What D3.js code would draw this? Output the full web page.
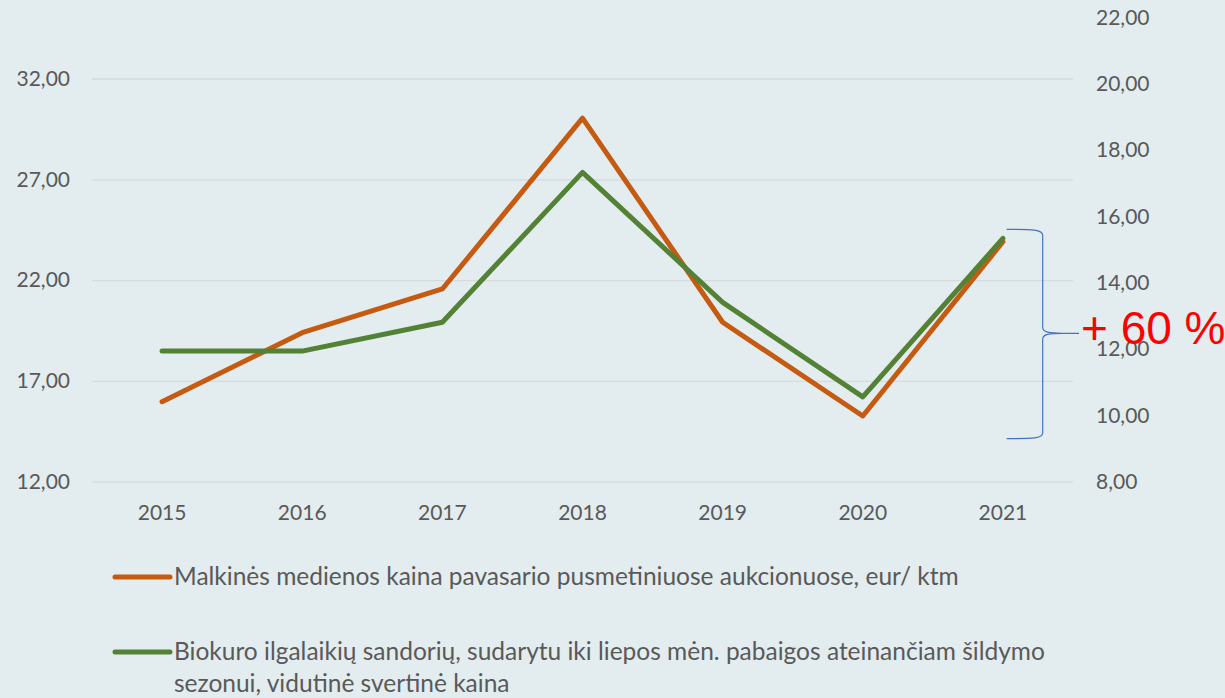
<!DOCTYPE html>
<html><head><meta charset="utf-8">
<script src="https://cdn.jsdelivr.net/npm/d3@7"></script>
<style>
html,body{margin:0;padding:0;background:#E3ECEE;}
svg{display:block;font-family:Lato,"Open Sans",sans-serif;}
</style></head>
<body>
<svg id="chart" width="1225" height="698"></svg>
<script>
const years = ["2015","2016","2017","2018","2019","2020","2021"];
const firewood = [15.97, 19.39, 21.56, 30.03, 19.91, 15.26, 23.90];
const biofuel = [11.94, 11.94, 12.81, 17.33, 13.41, 10.56, 15.34];
const leftTicks = [12, 17, 22, 27, 32];
const rightTicks = [8, 10, 12, 14, 16, 18, 20, 22];
const seriesNames = [
  "Malkinės medienos kaina pavasario pusmetiniuose aukcionuose, eur/ ktm",
  ["Biokuro ilgalaikių sandorių, sudarytu iki liepos mėn. pabaigos ateinančiam šildymo", "sezonui, vidutinė svertinė kaina"]
];
const annotation = "+ 60 %";

const svg = d3.select("#chart");
const plot = {left: 92, right: 1073, top: 17.6, bottom: 481.7};

const x = d3.scaleBand().domain(years).range([plot.left, plot.right]);
const yL = d3.scaleLinear().domain([12, 35.02]).range([plot.bottom, plot.top]);
const yR = d3.scaleLinear().domain([8, 22]).range([plot.bottom, plot.top]);
const fmt = v => d3.format(".2f")(v).replace(".", ",");

// gridlines
svg.append("g")
  .attr("transform", `translate(${plot.left},0)`)
  .call(d3.axisLeft(yL).tickValues(leftTicks).tickSize(-(plot.right - plot.left)).tickFormat(""))
  .call(g => g.select(".domain").remove())
  .call(g => g.selectAll("line").attr("stroke", "#D6DADB").attr("stroke-width", 1.3));

const styleText = g => g.selectAll("text").attr("fill", "#595959").attr("font-size", 21).attr("font-family", "Lato");

// left axis labels
svg.append("g")
  .attr("transform", `translate(70,0)`)
  .call(d3.axisLeft(yL).tickValues(leftTicks).tickSize(0).tickPadding(0).tickFormat(fmt))
  .call(g => g.select(".domain").remove())
  .call(styleText);

// right axis labels
svg.append("g")
  .attr("transform", `translate(1096,0)`)
  .call(d3.axisRight(yR).tickValues(rightTicks).tickSize(0).tickPadding(0).tickFormat(fmt))
  .call(g => g.select(".domain").remove())
  .call(styleText);

// x axis labels
svg.append("g")
  .attr("transform", `translate(0,${plot.bottom + 20})`)
  .call(d3.axisBottom(x).tickSize(0).tickPadding(3))
  .call(g => g.select(".domain").remove())
  .call(styleText);

const cx = d => x(d) + x.bandwidth() / 2;

svg.append("path")
  .datum(firewood)
  .attr("fill", "none").attr("stroke", "#C55A11").attr("stroke-width", 5)
  .attr("stroke-linejoin", "round").attr("stroke-linecap", "round")
  .attr("d", d3.line().x((d, i) => cx(years[i])).y(d => yL(d)));

svg.append("path")
  .datum(biofuel)
  .attr("fill", "none").attr("stroke", "#538135").attr("stroke-width", 5)
  .attr("stroke-linejoin", "round").attr("stroke-linecap", "round")
  .attr("d", d3.line().x((d, i) => cx(years[i])).y(d => yR(d)));

// brace annotation
const bTop = 229.3, bBot = 438.7, bMid = 333.3;
const bx0 = 1006.7, bx1 = 1042.7, bx2 = 1079;
const brace = d3.path();
brace.moveTo(bx0, bTop);
brace.bezierCurveTo(bx1 - 10, bTop, bx1, bTop, bx1, bTop + 6);
brace.lineTo(bx1, bMid - 6);
brace.bezierCurveTo(bx1, bMid - 1, bx1 + 6, bMid, bx1 + 20, bMid);
brace.lineTo(bx2, bMid);
brace.moveTo(bx1 + 20, bMid);
brace.bezierCurveTo(bx1 + 6, bMid, bx1, bMid + 1, bx1, bMid + 6);
brace.lineTo(bx1, bBot - 6);
brace.bezierCurveTo(bx1, bBot, bx1 - 10, bBot, bx0, bBot);
svg.append("path").attr("d", brace.toString())
  .attr("fill", "none").attr("stroke", "#4472C4").attr("stroke-width", 1.2);

svg.append("text").attr("x", 1081).attr("y", 344)
  .attr("fill", "#FF0000").attr("font-size", 46).attr("font-family", "Liberation Sans")
  .text(annotation);

// legend
const legColors = ["#C55A11", "#538135"];
const legY = [577, 652];
seriesNames.forEach((name, i) => {
  svg.append("line").attr("x1", 115).attr("x2", 170).attr("y1", legY[i]).attr("y2", legY[i])
    .attr("stroke", legColors[i]).attr("stroke-width", 5).attr("stroke-linecap", "round");
  const lines = Array.isArray(name) ? name : [name];
  const t = svg.append("text").attr("x", 174).attr("y", legY[i] + 8)
    .attr("fill", "#595959").attr("font-size", 24.5).attr("font-family", "Lato");
  lines.forEach((ln, j) => {
    t.append("tspan").attr("x", 174).attr("dy", j === 0 ? 0 : 32).text(ln);
  });
});
</script>
</body></html>
